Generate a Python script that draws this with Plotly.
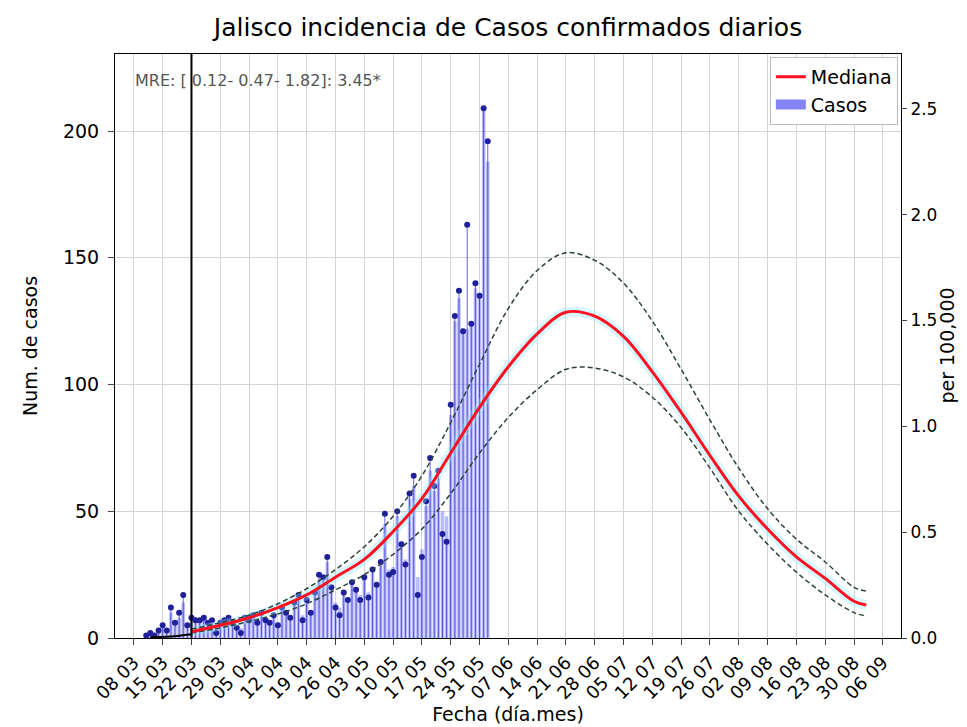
import pandas as pd
import plotly.graph_objects as go

# ---------------- data ----------------
title_text = "Jalisco incidencia de Casos confirmados diarios"
mre_text = "MRE: [ 0.12- 0.47- 1.82]: 3.45*"
right_label = "per 100,000"
population = 8.35e6
intervention_date = "2020-03-22"

daily_start = "2020-03-11"
# points (dots with stems)
casos_puntos = [1, 2, 1, 3, 5, 3, 12, 6, 10, 17,
                5, 8, 7, 7, 8, 6, 7, 2, 6, 7, 8,
                6, 4, 2, 8, 7, 9, 6, 10, 7, 6,
                9, 5, 12, 10, 8, 14, 17, 7, 15, 10,
                18, 25, 24, 32, 20, 12, 9, 18, 15, 22,
                19, 15, 24, 16, 27, 21, 30, 49, 25, 26,
                50, 37, 29, 57, 64, 17, 32, 54, 71, 60,
                66, 41, 38, 92, 127, 137, 121, 163, 124, 140, 135,
                209, 196]
# bars
casos_barras = [1, 2, 1, 3, 5, 3, 10, 6, 8, 14,
                5, 7, 7, 6, 8, 6, 7, 4, 6, 7, 8,
                6, 5, 4, 8, 7, 8, 6, 9, 7, 7,
                9, 6, 11, 10, 9, 13, 16, 9, 14, 11,
                17, 23, 24, 30, 20, 14, 12, 18, 16, 21,
                19, 17, 24, 18, 26, 22, 29, 45, 27, 28,
                48, 38, 31, 55, 60, 24, 35, 52, 66, 58,
                63, 50, 48, 88, 125, 134, 122, 122, 124, 138, 135,
                209, 188]

pre_fechas = ["2020-03-12", "2020-03-17", "2020-03-22"]
pre_valores = [0.3, 0.6, 1.5]

curva_fechas = ["2020-03-22", "2020-03-29", "2020-04-05", "2020-04-12", "2020-04-19",
                "2020-04-26", "2020-05-03", "2020-05-10", "2020-05-17", "2020-05-24",
                "2020-05-31", "2020-06-07", "2020-06-14", "2020-06-21", "2020-06-28",
                "2020-07-05", "2020-07-12", "2020-07-19", "2020-07-26", "2020-08-02",
                "2020-08-09", "2020-08-16", "2020-08-23", "2020-08-30", "2020-09-02"]
mediana = [2.5, 5, 8, 12, 17, 24, 31, 42, 55, 73, 91, 107, 120, 128.5, 127,
           119, 105, 89, 72, 56, 43, 32, 23.5, 14.5, 13]
superior = [3.5, 6, 9, 13.5, 19.5, 27, 36, 48, 64, 85, 108, 130, 145, 152, 149,
            140, 125, 106, 86, 67, 51, 39, 30, 20, 18.5]
inferior = [2, 4, 6.5, 9.5, 13.5, 19, 25, 33, 43, 57, 73, 87, 98, 106, 106.5,
            103, 95, 83, 67, 50, 37, 26, 17, 10, 8.7]

x_range = ["2020-03-03 10:00", "2020-09-10 10:00"]
y_max = 230.4

# ---------------- figure ----------------
fechas = pd.date_range(daily_start, periods=len(casos_barras), freq="D")
day_ms = 86400000
bar_color = "rgba(100,100,250,0.45)"

fig = go.Figure()

fig.add_trace(go.Bar(
    x=fechas, y=casos_barras, name="Casos", width=0.85 * day_ms,
    marker=dict(color=bar_color, line=dict(width=0)), showlegend=False,
))

fig.add_trace(go.Scatter(
    x=fechas, y=casos_puntos, mode="markers", showlegend=False,
    marker=dict(color="#20209a", size=6),
    error_y=dict(type="data", symmetric=False, array=[0] * len(casos_puntos),
                 arrayminus=casos_puntos, width=0, thickness=1,
                 color="rgba(50,50,210,0.75)"),
))

# faint halo around the median
fig.add_trace(go.Scatter(
    x=curva_fechas, y=mediana, mode="lines", showlegend=False, hoverinfo="skip",
    line=dict(color="rgba(140,235,255,0.35)", width=10, shape="spline"),
))

for serie in (superior, inferior):
    fig.add_trace(go.Scatter(
        x=curva_fechas, y=serie, mode="lines", showlegend=False,
        line=dict(color="#2c4436", width=1.5, dash="5px,3px", shape="spline"),
    ))

fig.add_trace(go.Scatter(
    x=curva_fechas, y=mediana, mode="lines", name="Mediana",
    line=dict(color="#ff1020", width=3, shape="spline"),
    legendrank=1,
))

# legend-only patch for the bars (rectangular handle)
fig.add_trace(go.Scatter(
    x=[None], y=[None], mode="lines", name="Casos",
    line=dict(color="rgba(110,110,245,0.85)", width=14), legendrank=2,
))

fig.add_trace(go.Scatter(
    x=pre_fechas, y=pre_valores, mode="lines", showlegend=False,
    line=dict(color="black", width=2, shape="spline"),
))

# right axis (per 100,000)
fig.add_trace(go.Scatter(
    x=fechas, y=[v * 1e5 / population for v in casos_barras], yaxis="y2",
    mode="lines", line=dict(width=0), opacity=0, showlegend=False, hoverinfo="skip",
))

fig.add_vline(x=pd.Timestamp(intervention_date).value / 1e6,
              line=dict(color="black", width=2))

fig.add_annotation(
    text=mre_text, xref="paper", yref="paper", x=0.023, y=0.954,
    xanchor="left", yanchor="middle", showarrow=False,
    font=dict(size=16, color="#555555"),
)

fs = 19
fig.add_annotation(
    text=right_label, xref="paper", yref="paper", x=1.058, y=0.5,
    xanchor="center", yanchor="middle", showarrow=False, textangle=-90,
    font=dict(size=fs, color="black"),
)

grid_c = "#d4d4d4"
fig.update_layout(
    width=967, height=727,
    margin=dict(l=107, r=74, t=46, b=97),
    plot_bgcolor="white", paper_bgcolor="white",
    font=dict(family="DejaVu Sans", size=fs, color="black"),
    title=dict(text=title_text, x=0.5, xref="paper", y=0.974, yref="container",
               xanchor="center", yanchor="middle",
               font=dict(size=25, color="black")),
    barmode="overlay",
    showlegend=True,
    legend=dict(x=0.996, y=0.995, xanchor="right", yanchor="top",
                bgcolor="white", bordercolor="#bbbbbb", borderwidth=1,
                font=dict(size=fs), traceorder="normal"),
    xaxis=dict(
        type="date", range=x_range, tick0="2020-03-08", dtick=7 * day_ms,
        tickformat="%d %m", tickangle=-45, ticks="outside", ticklen=6,
        showgrid=True, gridcolor=grid_c, gridwidth=1, automargin=False,
        showline=True, linecolor="black", linewidth=1, mirror=True,
        title=dict(text="Fecha (día.mes)", font=dict(size=fs), standoff=0),
        tickfont=dict(size=18),
    ),
    yaxis=dict(
        range=[0, y_max], tickvals=[0, 50, 100, 150, 200], automargin=False,
        ticks="outside", ticklen=6, ticklabelstandoff=5, showgrid=True,
        gridcolor=grid_c,
        zeroline=False, showline=True, linecolor="black", linewidth=1,
        title=dict(text="Num. de casos", font=dict(size=fs), standoff=20),
        tickfont=dict(size=fs),
    ),
    yaxis2=dict(
        overlaying="y", side="right", range=[0, y_max * 1e5 / population],
        dtick=0.5, tickformat=".1f", ticks="outside", ticklen=5, automargin=False,
        showgrid=False, zeroline=False, showline=True, linecolor="black",
        linewidth=1, tickfont=dict(size=17),
    ),
)

fig.write_html("out.html")
